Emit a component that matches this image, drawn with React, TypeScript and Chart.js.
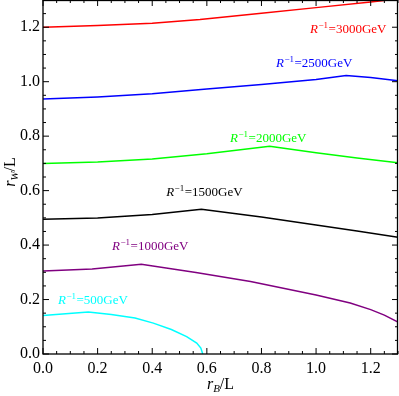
import React, { useEffect, useRef } from "react";
import { Chart, registerables } from "chart.js";

Chart.register(...registerables);

// ---- data ----
const x3000 = [0, 0.2, 0.4, 0.575, 0.8, 1.0, 1.2, 1.3];
const y3000 = [1.2, 1.206, 1.215, 1.228, 1.251, 1.272, 1.293, 1.304];

const x2500 = [0, 0.2, 0.4, 0.6, 0.8, 1.0, 1.11, 1.2, 1.3];
const y2500 = [0.936, 0.944, 0.956, 0.973, 0.99, 1.008, 1.023, 1.015, 1.003];

const x2000 = [0, 0.2, 0.4, 0.6, 0.83, 1.0, 1.15, 1.3];
const y2000 = [0.7, 0.705, 0.716, 0.735, 0.763, 0.739, 0.72, 0.702];

const x1500 = [0, 0.2, 0.4, 0.58, 0.8, 1.0, 1.15, 1.3];
const y1500 = [0.495, 0.499, 0.512, 0.532, 0.503, 0.474, 0.452, 0.429];

const x1000 = [0, 0.18, 0.36, 0.56, 0.76, 1.0, 1.125, 1.2, 1.25, 1.3];
const y1000 = [0.305, 0.312, 0.33, 0.299, 0.266, 0.217, 0.187, 0.163, 0.143, 0.117];

const x500 = [0, 0.166, 0.25, 0.337, 0.404, 0.47, 0.526, 0.563, 0.578, 0.585];
const y500 = [0.141, 0.154, 0.145, 0.132, 0.1135, 0.09, 0.064, 0.04, 0.022, 0.0];

const seriesNames = ["3000", "2500", "2000", "1500", "1000", "500"];
const seriesColors = ["#ff0000", "#0000ff", "#00ff00", "#000000", "#800080", "#00ffff"];
const seriesX = [x3000, x2500, x2000, x1500, x1000, x500];
const seriesY = [y3000, y2500, y2000, y1500, y1000, y500];

// label anchors (left edge x, vertical centre y) in data units
const labelX = [0.978, 0.853, 0.685, 0.451, 0.253, 0.055];
const labelY = [1.195, 1.071, 0.796, 0.598, 0.4, 0.199];

const axisMin = 0;
const axisMax = 1.3;
const majorStep = 0.2;
const minorStep = 0.05;

const SERIF = "'Liberation Serif', 'Times New Roman', serif";

const framePlugin = {
  id: "frame",
  afterDatasetsDraw(chart: any) {
    const { ctx, chartArea: a } = chart;
    const xs = chart.scales.x;
    const ys = chart.scales.y;
    ctx.save();
    ctx.strokeStyle = "#000";
    ctx.lineWidth = 1.3;
    ctx.strokeRect(a.left, a.top + 0.5, a.right - a.left - 0.5, a.bottom - a.top - 0.5);
    ctx.lineWidth = 1;
    const n = Math.round((axisMax - axisMin) / minorStep);
    for (let i = 0; i <= n; i++) {
      const v = axisMin + i * minorStep;
      const major = Math.abs(v / majorStep - Math.round(v / majorStep)) < 1e-6;
      const len = major ? 6 : 3;
      const px = xs.getPixelForValue(v);
      const py = ys.getPixelForValue(v);
      ctx.beginPath();
      ctx.moveTo(px, a.bottom);
      ctx.lineTo(px, a.bottom - len);
      ctx.moveTo(px, a.top);
      ctx.lineTo(px, a.top + len);
      ctx.moveTo(a.left, py);
      ctx.lineTo(a.left + len, py);
      ctx.moveTo(a.right, py);
      ctx.lineTo(a.right - len, py);
      ctx.stroke();
    }

    // curve labels
    ctx.textBaseline = "alphabetic";
    ctx.textAlign = "left";
    for (let i = 0; i < seriesNames.length; i++) {
      let px = xs.getPixelForValue(labelX[i]);
      const base = ys.getPixelForValue(labelY[i]) + 4.5;
      ctx.fillStyle = seriesColors[i];
      ctx.font = `italic 13px ${SERIF}`;
      ctx.fillText("R", px, base);
      px += ctx.measureText("R").width + 0.5;
      ctx.font = `9px ${SERIF}`;
      ctx.fillText("\u22121", px, base - 5);
      px += ctx.measureText("\u22121").width + 0.5;
      ctx.font = `13px ${SERIF}`;
      ctx.fillText("=" + seriesNames[i] + "GeV", px, base);
    }

    // axis titles
    ctx.fillStyle = "#000";
    const drawTitle = (sub: string) => {
      ctx.font = `italic 16px ${SERIF}`;
      const w1 = ctx.measureText("r").width;
      ctx.font = `italic 11px ${SERIF}`;
      const w2 = ctx.measureText(sub).width;
      ctx.font = `16px ${SERIF}`;
      const w3 = ctx.measureText("/L").width;
      let x = -(w1 + w2 + w3) / 2;
      ctx.font = `italic 16px ${SERIF}`;
      ctx.fillText("r", x, 0);
      x += w1;
      ctx.font = `italic 11px ${SERIF}`;
      ctx.fillText(sub, x, 3);
      x += w2;
      ctx.font = `16px ${SERIF}`;
      ctx.fillText("/L", x, 0);
    };
    ctx.save();
    ctx.translate((a.left + a.right) / 2, 389);
    drawTitle("B");
    ctx.restore();
    ctx.save();
    ctx.translate(15, (a.top + a.bottom) / 2 - 5);
    ctx.rotate(-Math.PI / 2);
    drawTitle("W");
    ctx.restore();
    ctx.restore();
  },
};

export default function App() {
  const ref = useRef<HTMLCanvasElement | null>(null);
  useEffect(() => {
    if (!ref.current) return;
    const datasets = seriesNames.map((name, i) => ({
      label: name,
      data: seriesX[i].map((x, j) => ({ x, y: seriesY[i][j] })),
      borderColor: seriesColors[i],
      backgroundColor: seriesColors[i],
      borderWidth: 1.5,
      pointRadius: 0,
      tension: 0,
      fill: false,
    }));
    const tickFont = { family: SERIF, size: 16 };
    const chart = new Chart(ref.current, {
      type: "line",
      data: { datasets },
      options: {
        animation: false,
        responsive: false,
        maintainAspectRatio: false,
        layout: { padding: { top: 0, right: 1, left: 0, bottom: 0 } },
        plugins: { legend: { display: false }, tooltip: { enabled: false } },
        scales: {
          x: {
            type: "linear",
            min: axisMin,
            max: axisMax,
            grid: { display: false, drawTicks: false },
            border: { display: false },
            ticks: {
              stepSize: majorStep,
              includeBounds: false,
              maxRotation: 0,
              autoSkip: false,
              padding: 5,
              color: "#000",
              font: tickFont,
              callback: (v: any) => Number(v).toFixed(1),
            },
            afterFit: (s: any) => {
              s.height = 42;
              s.paddingLeft = 0;
              s.paddingRight = 0;
            },
          },
          y: {
            type: "linear",
            min: axisMin,
            max: axisMax,
            grid: { display: false, drawTicks: false },
            border: { display: false },
            ticks: {
              stepSize: majorStep,
              includeBounds: false,
              autoSkip: false,
              padding: 3,
              color: "#000",
              font: tickFont,
              callback: (v: any) => Number(v).toFixed(1),
            },
            afterFit: (s: any) => {
              s.width = 43;
              s.paddingTop = 0;
              s.paddingBottom = 0;
            },
          },
        },
      } as any,
      plugins: [framePlugin],
    });
    return () => chart.destroy();
  }, []);
  return (
    <div style={{ position: "absolute", left: 0, top: 0, width: 399, height: 396, background: "#fff" }}>
      <canvas ref={ref} width={399} height={396} />
    </div>
  );
}
